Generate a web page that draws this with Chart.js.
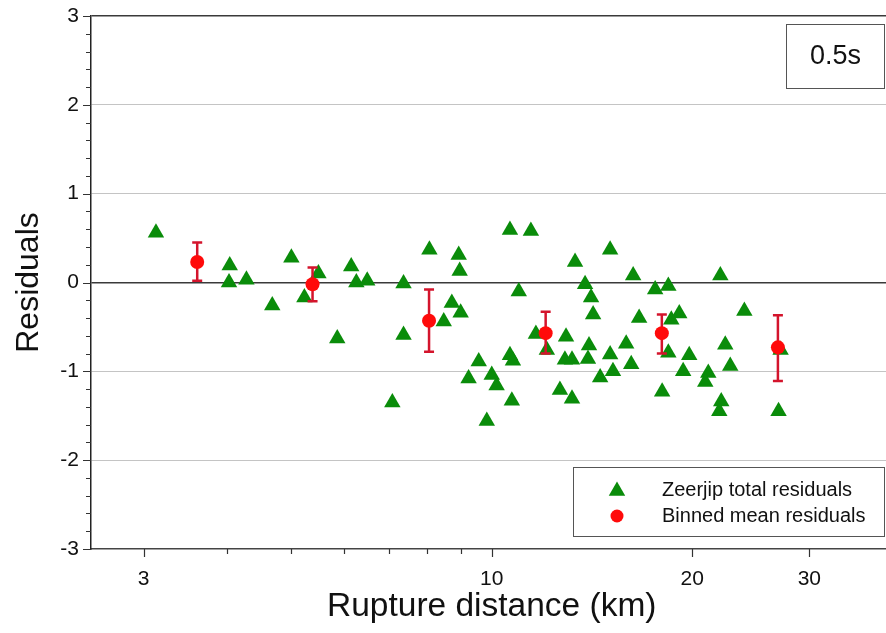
<!DOCTYPE html>
<html><head><meta charset="utf-8">
<script src="https://cdn.jsdelivr.net/npm/chart.js@4.4.0/dist/chart.umd.min.js"></script>
<style>
html,body{margin:0;padding:0;background:#fff;overflow:hidden}
#wrap{position:relative;width:886px;height:633px;overflow:hidden;background:#fff}
#box{position:absolute;left:0;top:0;width:902px;height:633px}
</style></head><body>
<div id="wrap"><div id="box"><canvas id="c"></canvas></div></div>
<script>
// ---- data ----
const residualDistances = [3.13,4.04,4.03,4.28,4.68,5.00,5.23,5.49,5.86,6.15,6.26,6.50,7.37,7.37,7.09,8.06,8.47,8.71,8.92,8.95,8.98,9.56,9.23,10.0,10.17,9.83,10.65,11.45,10.98,10.65,10.76,10.72,11.65,12.10,13.34,15.06,16.31,13.81,14.10,14.20,16.65,17.60,18.42,18.61,19.13,12.93,14.00,12.88,13.20,13.95,15.06,15.92,16.20,14.55,15.21,18.42,19.80,19.39,21.15,20.93,22.05,12.66,13.20,18.03,22.12,21.97,23.96,22.43,22.82,27.16,26.97];
const residualValues = [0.56,0.19,0.00,0.03,-0.26,0.28,-0.17,0.10,-0.63,0.18,0.00,0.02,-0.01,-0.59,-1.35,0.37,-0.44,-0.23,0.31,0.13,-0.34,-0.89,-1.08,-1.04,-1.16,-1.56,0.59,0.58,-0.10,-0.82,-0.88,-1.33,-0.58,-0.76,0.23,0.37,0.08,-0.02,-0.17,-0.36,-0.40,-0.08,-0.04,-0.42,-0.35,-0.61,-0.71,-0.87,-0.87,-0.86,-0.81,-0.69,-0.92,-1.07,-1.00,-0.79,-0.82,-1.00,-1.02,-1.12,0.08,-1.21,-1.31,-1.23,-1.34,-1.45,-0.32,-0.70,-0.94,-0.76,-1.45];
const binDistances = [3.61,5.38,8.05,12.05,18.01,26.91];
const binMeans = [0.23,-0.02,-0.43,-0.57,-0.57,-0.73];
const binErrLow = [0.21,0.19,0.35,0.23,0.23,0.38];
const binErrHigh = [0.22,0.19,0.35,0.24,0.21,0.36];
const xMajorTicks = [3,10,20,30];
const xMinorTicks = [4,5,6,7,8,9];
const seriesLabels = ['Zeerjip total residuals','Binned mean residuals'];
const xTitle = 'Rupture distance (km)';
const yTitle = 'Residuals';
const periodLabel = '0.5s';

const FONT = "'Liberation Sans', Arial, sans-serif";
const GREEN = '#0a8c0a';
const RED = '#ff0a0a';
const BAR = '#d4142c';

const residualPoints = residualDistances.map((x,i)=>({x, y: residualValues[i]}));
const binPoints = binDistances.map((x,i)=>({x, y: binMeans[i]}));

const decor = {
  id: 'decor',
  beforeDatasetDraw(chart, args) {
    if (args.index !== 0) return;
    const {ctx, scales:{x, y}} = chart;
    ctx.save();
    ctx.strokeStyle = BAR; ctx.lineWidth = 2.5;
    binDistances.forEach((d,i)=>{
      const px = x.getPixelForValue(d);
      const top = y.getPixelForValue(binMeans[i] + binErrHigh[i]);
      const bot = y.getPixelForValue(binMeans[i] - binErrLow[i]);
      ctx.beginPath();
      ctx.moveTo(px, top); ctx.lineTo(px, bot);
      ctx.moveTo(px-5, top); ctx.lineTo(px+5, top);
      ctx.moveTo(px-5, bot); ctx.lineTo(px+5, bot);
      ctx.stroke();
    });
    ctx.restore();
  },
  afterDraw(chart) {
    const {ctx, chartArea:a, scales:{x, y}} = chart;
    ctx.save();
    // tick marks
    ctx.strokeStyle = '#333'; ctx.lineWidth = 1.2;
    ctx.beginPath();
    xMajorTicks.forEach(v=>{ const p = Math.round(x.getPixelForValue(v))+0.5; ctx.moveTo(p, a.bottom); ctx.lineTo(p, a.bottom+8); });
    xMinorTicks.forEach(v=>{ const p = Math.round(x.getPixelForValue(v))+0.5; ctx.moveTo(p, a.bottom); ctx.lineTo(p, a.bottom+5); });
    for (let k = -15; k <= 15; k++) {
      const p = Math.round(y.getPixelForValue(k/5))+0.5;
      const len = (k % 5 === 0) ? 8 : 5;
      ctx.moveTo(a.left - len, p); ctx.lineTo(a.left, p);
    }
    ctx.stroke();

    // period label box
    ctx.fillStyle = '#fff';
    ctx.fillRect(786, 24, 99, 65);
    ctx.strokeStyle = '#555'; ctx.lineWidth = 1;
    ctx.strokeRect(786.5, 24.5, 98, 64);
    ctx.fillStyle = '#111';
    ctx.font = '27px ' + FONT;
    ctx.textAlign = 'center'; ctx.textBaseline = 'middle';
    ctx.fillText(periodLabel, 835.5, 57);

    // legend
    ctx.fillStyle = '#fff';
    ctx.fillRect(573, 467, 312, 70);
    ctx.strokeStyle = '#555';
    ctx.strokeRect(573.5, 467.5, 311, 69);
    ctx.fillStyle = GREEN;
    const r = 9.5;
    const tx = 617, ty = 491;
    ctx.beginPath();
    ctx.moveTo(tx, ty - r);
    ctx.lineTo(tx + r*Math.sin(2*Math.PI/3), ty - r*Math.cos(2*Math.PI/3));
    ctx.lineTo(tx + r*Math.sin(4*Math.PI/3), ty - r*Math.cos(4*Math.PI/3));
    ctx.closePath(); ctx.fill();
    ctx.fillStyle = RED;
    ctx.beginPath(); ctx.arc(617, 516, 6.5, 0, Math.PI*2); ctx.fill();
    ctx.fillStyle = '#111';
    ctx.font = '20px ' + FONT;
    ctx.textAlign = 'left';
    ctx.fillText(seriesLabels[0], 662, 490);
    ctx.fillText(seriesLabels[1], 662, 516);
    ctx.restore();
  }
};

new Chart(document.getElementById('c'), {
  type: 'scatter',
  data: {
    datasets: [
      { label: seriesLabels[1], data: binPoints, pointStyle: 'circle', pointRadius: 7,
        backgroundColor: RED, borderColor: RED, borderWidth: 0, pointHoverRadius: 7 },
      { label: seriesLabels[0], data: residualPoints, pointStyle: 'triangle', pointRadius: 9.5,
        backgroundColor: GREEN, borderColor: GREEN, borderWidth: 0, pointHoverRadius: 9.5 }
    ]
  },
  options: {
    responsive: true, maintainAspectRatio: false, animation: false,
    layout: { padding: { top: 16, left: 0, right: 0, bottom: 0 } },
    plugins: { legend: { display: false }, tooltip: { enabled: false } },
    scales: {
      x: {
        type: 'logarithmic', min: 2.5, max: 40,
        afterBuildTicks(s) { s.ticks = xMajorTicks.map(v=>({value:v})); },
        afterFit(s) { s.height = 84; s.paddingLeft = 0; s.paddingRight = 0; },
        ticks: { autoSkip: false, maxRotation: 0, padding: 18, color: '#111',
          font: { family: FONT, size: 21 }, callback: v => String(v) },
        grid: { display: false, drawTicks: false },
        border: { display: true, color: '#444', width: 1.5 },
        title: { display: true, text: xTitle, color: '#111',
          font: { family: FONT, size: 33.5 }, padding: { top: 0, bottom: 6 } }
      },
      y: {
        min: -3, max: 3,
        afterFit(s) { s.width = 91; s.paddingTop = 0; s.paddingBottom = 0; },
        ticks: { stepSize: 1, padding: 12, color: '#111', font: { family: FONT, size: 21 } },
        grid: { drawTicks: false,
          color: c => (c.tick && (c.tick.value === 0 || c.tick.value === 3)) ? '#3a3a3a' : (c.tick && c.tick.value === -3 ? 'rgba(0,0,0,0)' : '#c4c4c4'),
          lineWidth: c => (c.tick && (c.tick.value === 0 || c.tick.value === 3)) ? 1.5 : 1 },
        border: { display: true, color: '#222', width: 1.5 },
        title: { display: true, text: yTitle, color: '#111',
          font: { family: FONT, size: 32 }, padding: { top: 10, bottom: 0 } }
      }
    }
  },
  plugins: [decor]
});
</script>
</body></html>
